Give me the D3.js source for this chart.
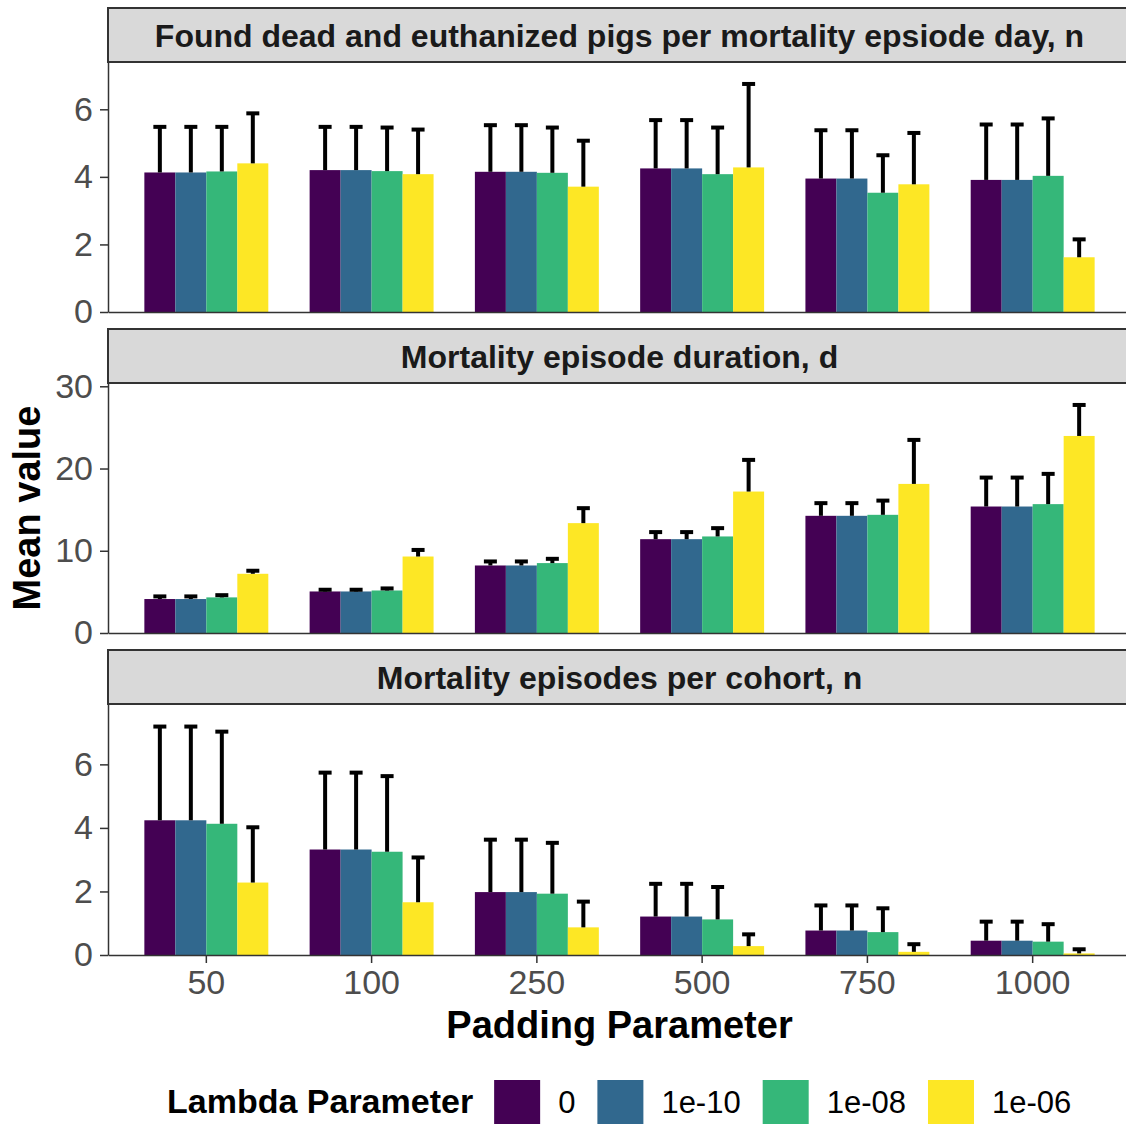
<!DOCTYPE html>
<html>
<head>
<meta charset="utf-8">
<script src="https://cdn.jsdelivr.net/npm/d3@7/dist/d3.min.js"></script>
<style>
  html, body { margin: 0; padding: 0; background: #fff; }
  svg { display: block; font-family: "Liberation Sans", Arial, sans-serif; }
</style>
</head>
<body>
<svg id="chart" width="1126" height="1124"></svg>
<script>
// Padding parameter values (x categories) and lambda parameter values (fill groups)
const paddings = ["50", "100", "250", "500", "750", "1000"];
const lambdas = ["0", "1e-10", "1e-08", "1e-06"];
const lambdaColors = ["#440154", "#31688E", "#35B779", "#FDE725"];

const panelTitles = [
  "Found dead and euthanized pigs per mortality epsiode day, n",
  "Mortality episode duration, d",
  "Mortality episodes per cohort, n"
];

// Rows: padding; columns: lambda
const deadPerDayMean = [
  [4.13, 4.13, 4.16, 4.40],
  [4.20, 4.20, 4.17, 4.08],
  [4.15, 4.15, 4.12, 3.71],
  [4.25, 4.25, 4.08, 4.28],
  [3.95, 3.95, 3.53, 3.78],
  [3.91, 3.91, 4.03, 1.62]
];
const deadPerDaySd = [
  [1.35, 1.35, 1.32, 1.48],
  [1.28, 1.28, 1.29, 1.32],
  [1.38, 1.38, 1.34, 1.36],
  [1.43, 1.43, 1.38, 2.47],
  [1.43, 1.43, 1.11, 1.52],
  [1.64, 1.64, 1.70, 0.53]
];

const durationMean = [
  [4.13, 4.13, 4.33, 7.20],
  [5.05, 5.05, 5.17, 9.30],
  [8.21, 8.21, 8.50, 13.36],
  [11.41, 11.41, 11.74, 17.20],
  [14.25, 14.25, 14.37, 18.13],
  [15.38, 15.38, 15.67, 23.96]
];
const durationSd = [
  [0.32, 0.32, 0.27, 0.37],
  [0.21, 0.21, 0.25, 0.80],
  [0.49, 0.49, 0.52, 1.82],
  [0.86, 0.86, 1.01, 3.85],
  [1.54, 1.54, 1.73, 5.35],
  [3.52, 3.52, 3.68, 3.77]
];

const episodesMean = [
  [4.24, 4.24, 4.13, 2.28],
  [3.32, 3.32, 3.25, 1.66],
  [1.98, 1.98, 1.93, 0.87],
  [1.21, 1.21, 1.12, 0.28],
  [0.77, 0.77, 0.72, 0.10],
  [0.45, 0.45, 0.42, 0.05]
];
const episodesSd = [
  [2.95, 2.95, 2.90, 1.74],
  [2.42, 2.42, 2.38, 1.41],
  [1.65, 1.65, 1.60, 0.81],
  [1.03, 1.03, 1.02, 0.37],
  [0.79, 0.79, 0.75, 0.24],
  [0.60, 0.60, 0.55, 0.13]
];

const yTicks1 = [0, 2, 4, 6];
const yTicks2 = [0, 10, 20, 30];
const yTicks3 = [0, 2, 4, 6];

// ---- layout ----
const svg = d3.select("#chart");
const W = 1126, H = 1124;
svg.append("rect").attr("width", W).attr("height", H).attr("fill", "#fff");

const panelLeft = 108, panelRight = 1131;
const stripH = 54;
const panels = [
  { title: panelTitles[0], mean: deadPerDayMean, sd: deadPerDaySd, ticks: yTicks1, stripTop: 8,   bottom: 312, yMax: 7.4 },
  { title: panelTitles[1], mean: durationMean,   sd: durationSd,   ticks: yTicks2, stripTop: 329, bottom: 633, yMax: 30.4 },
  { title: panelTitles[2], mean: episodesMean,   sd: episodesSd,   ticks: yTicks3, stripTop: 650, bottom: 955, yMax: 7.9 }
];

const x = d3.scaleBand()
  .domain(paddings)
  .range([panelLeft, panelRight])
  .paddingInner(0.25)
  .paddingOuter(0.22);

const xInner = d3.scaleBand()
  .domain(lambdas)
  .range([0, x.bandwidth()]);

const color = d3.scaleOrdinal().domain(lambdas).range(lambdaColors);

const axisColor = "#333333";
const tickFont = 34;

panels.forEach((p, pi) => {
  const top = p.stripTop + stripH;
  const y = d3.scaleLinear().domain([0, p.yMax]).range([p.bottom, top]);
  const g = svg.append("g");

  // strip
  g.append("rect")
    .attr("x", panelLeft).attr("y", p.stripTop)
    .attr("width", panelRight - panelLeft).attr("height", stripH)
    .attr("fill", "#d9d9d9").attr("stroke", axisColor).attr("stroke-width", 2);
  g.append("text")
    .attr("x", (panelLeft + panelRight) / 2)
    .attr("y", p.stripTop + stripH / 2)
    .attr("dy", "0.36em")
    .attr("text-anchor", "middle")
    .attr("font-size", 32)
    .attr("font-weight", "bold")
    .attr("fill", "#1a1a1a")
    .text(p.title);

  // bars
  const rows = [];
  paddings.forEach((pad, i) => {
    lambdas.forEach((lam, j) => {
      rows.push({ pad, lam, mean: p.mean[i][j], sd: p.sd[i][j] });
    });
  });

  g.append("g").selectAll("rect")
    .data(rows).join("rect")
    .attr("x", d => x(d.pad) + xInner(d.lam))
    .attr("width", xInner.bandwidth())
    .attr("y", d => y(d.mean))
    .attr("height", d => y(0) - y(d.mean))
    .attr("fill", d => color(d.lam));

  // error bars (mean to mean + sd)
  const cx = d => x(d.pad) + xInner(d.lam) + xInner.bandwidth() / 2;
  const eb = g.append("g").attr("stroke", "#000").attr("stroke-width", 4);
  eb.selectAll("line.v")
    .data(rows).join("line").attr("class", "v")
    .attr("x1", cx).attr("x2", cx)
    .attr("y1", d => y(d.mean))
    .attr("y2", d => y(d.mean + d.sd));
  eb.selectAll("line.h")
    .data(rows).join("line").attr("class", "h")
    .attr("x1", d => cx(d) - 6.5)
    .attr("x2", d => cx(d) + 6.5)
    .attr("y1", d => y(d.mean + d.sd))
    .attr("y2", d => y(d.mean + d.sd));

  // y axis
  const ya = g.append("g")
    .attr("transform", `translate(${panelLeft},0)`)
    .call(d3.axisLeft(y).tickValues(p.ticks).tickSize(8).tickSizeOuter(0).tickPadding(7));
  ya.selectAll("path, line").attr("stroke", axisColor).attr("stroke-width", 1.5);
  ya.selectAll("text").attr("font-size", tickFont).attr("fill", "#4d4d4d")
    .attr("font-family", '"Liberation Sans", Arial, sans-serif');

  // x axis
  const last = pi === panels.length - 1;
  const xAxis = last
    ? d3.axisBottom(x).tickSize(8).tickSizeOuter(0).tickPadding(7)
    : d3.axisBottom(x).tickValues([]).tickSizeOuter(0);
  const xa = g.append("g")
    .attr("transform", `translate(0,${p.bottom})`)
    .call(xAxis);
  xa.selectAll("path, line").attr("stroke", axisColor).attr("stroke-width", 1.5);
  xa.selectAll("text").attr("font-size", tickFont).attr("fill", "#4d4d4d")
    .attr("font-family", '"Liberation Sans", Arial, sans-serif');
});

// axis titles
svg.append("text")
  .attr("transform", "translate(40,508) rotate(-90)")
  .attr("text-anchor", "middle")
  .attr("font-size", 38)
  .attr("font-weight", "bold")
  .attr("fill", "#000")
  .text("Mean value");

svg.append("text")
  .attr("x", (panelLeft + panelRight) / 2)
  .attr("y", 1038)
  .attr("text-anchor", "middle")
  .attr("font-size", 38)
  .attr("font-weight", "bold")
  .attr("fill", "#000")
  .text("Padding Parameter");

// legend
const legend = svg.append("g").attr("transform", "translate(167,0)");
const keySize = 46, keyTop = 1080, legendBaseline = 1113;
const keyToLabel = 18, labelToKey = 22;
const legendTitle = legend.append("text")
  .attr("y", legendBaseline)
  .attr("font-size", 34)
  .attr("font-weight", "bold")
  .attr("fill", "#000")
  .text("Lambda Parameter");

let cursor = legendTitle.node().getComputedTextLength() + 21;
lambdas.forEach(lam => {
  legend.append("rect")
    .attr("x", cursor).attr("y", keyTop)
    .attr("width", keySize).attr("height", keySize)
    .attr("fill", color(lam));
  cursor += keySize + keyToLabel;
  const t = legend.append("text")
    .attr("x", cursor).attr("y", legendBaseline)
    .attr("font-size", 31)
    .attr("fill", "#000")
    .text(lam);
  cursor += t.node().getComputedTextLength() + labelToKey;
});
</script>
</body>
</html>
